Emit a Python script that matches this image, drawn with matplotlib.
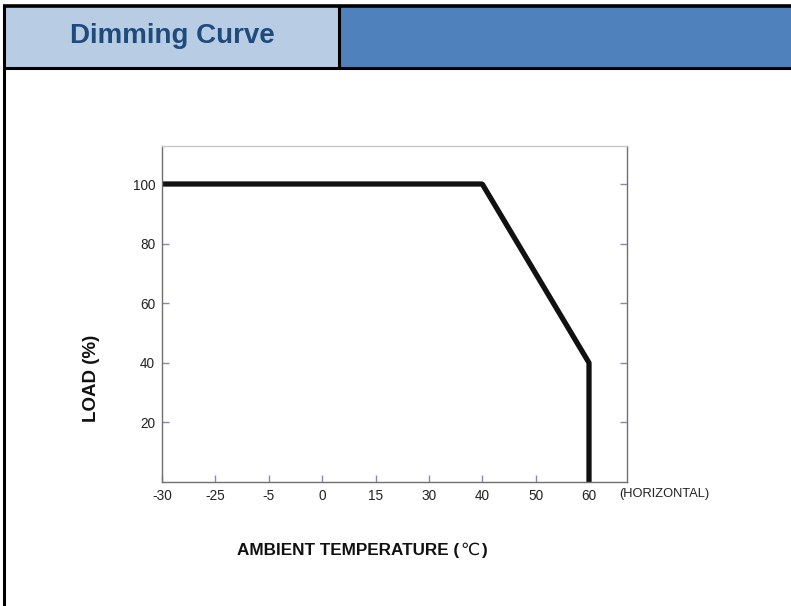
import matplotlib
matplotlib.use("Agg")
import matplotlib.pyplot as plt
from matplotlib.patches import Rectangle
from matplotlib.lines import Line2D

# Data
tick_labels = ["-30", "-25", "-5", "0", "15", "30", "40", "50", "60"]
curve_temp = ["-30", "40", "60", "60"]
curve_load = [100, 100, 40, 0]
y_ticks = [20, 40, 60, 80, 100]

W, H = 791, 606
fig = plt.figure(figsize=(W / 100, H / 100), dpi=100)
fig.patch.set_facecolor("white")

def fx(px):
    return px / W

def fy(py):
    return 1 - py / H

# Header cells
fig.patches.append(Rectangle((fx(4), fy(67)), fx(339 - 4), fy(6) - fy(67),
                             transform=fig.transFigure, facecolor="#B8CCE4", edgecolor="none"))
fig.patches.append(Rectangle((fx(339), fy(67)), fx(791 - 339), fy(6) - fy(67),
                             transform=fig.transFigure, facecolor="#4F81BD", edgecolor="none"))
# Borders
for (x0, y0, x1, y1, w) in [(3, 5.5, 791, 5.5, 2.6), (3, 67.5, 791, 67.5, 2.2),
                            (4, 5, 4, 606, 2.2), (339, 5, 339, 67.5, 2.2)]:
    fig.add_artist(Line2D([fx(x0), fx(x1)], [fy(y0), fy(y1)], transform=fig.transFigure,
                          color="black", lw=w, solid_capstyle="butt"))

sans = ["Liberation Sans", "DejaVu Sans"]
fig.text(fx(172), fy(36), "Dimming Curve", ha="center", va="center",
         fontsize=20, fontweight="bold", color="#1F4A7C", family=sans)

ax = fig.add_axes([fx(162), fy(482), fx(627 - 162), fy(146) - fy(482)])
idx = {lab: i for i, lab in enumerate(tick_labels)}
xs = [idx[t] for t in curve_temp]
ax.plot(xs, curve_load, color="#111111", lw=3.8, solid_joinstyle="bevel", solid_capstyle="butt")

ax.set_xlim(0, (627 - 162) / ((589 - 162) / 8))
ax.set_ylim(0, 20 * (482 - 146) / ((482 - 184) / 5))
ax.set_xticks(range(len(tick_labels)))
ax.set_xticklabels(tick_labels)
ax.set_yticks(y_ticks)
ax.set_yticklabels([str(v) for v in y_ticks])

for lab in ax.get_xticklabels() + ax.get_yticklabels():
    lab.set_family(sans)
    lab.set_fontsize(9.8)
    lab.set_color("#222222")
ax.tick_params(axis="both", direction="in", length=5, width=1, color="#8888B0", pad=5)
ax.tick_params(axis="y", right=True, labelright=False)
for s in ax.spines.values():
    s.set_color("#707070")
    s.set_linewidth(1)
ax.spines["top"].set_color("#C8C8C8")

fig.text(fx(619), fy(494), "(HORIZONTAL)", ha="left", va="center", fontsize=9.3,
         family=sans, color="#222222")

# X axis label: bold text with a light degree-Celsius sign
fig.canvas.draw()
renderer = fig.canvas.get_renderer()
parts = [("AMBIENT TEMPERATURE (", "bold", sans),
         ("\u2103", "normal", ["DejaVu Sans", "Noto Sans CJK SC"]),
         (")", "bold", sans)]
texts = []
for s, wgt, fam in parts:
    t = fig.text(0, fy(550), s, ha="left", va="center", fontsize=12.3, fontweight=wgt,
                 family=fam, color="#111111")
    texts.append(t)
widths = [t.get_window_extent(renderer).width for t in texts]
total = sum(widths) + 2
x = 362 - total / 2
for t, w in zip(texts, widths):
    t.set_x(fx(x))
    x += w + 1

fig.text(fx(92), fy(378), "LOAD (%)", ha="center", va="center", rotation=90,
         fontsize=13.5, fontweight="bold", family=sans, color="#111111")

fig.savefig("out.png", dpi=100)
